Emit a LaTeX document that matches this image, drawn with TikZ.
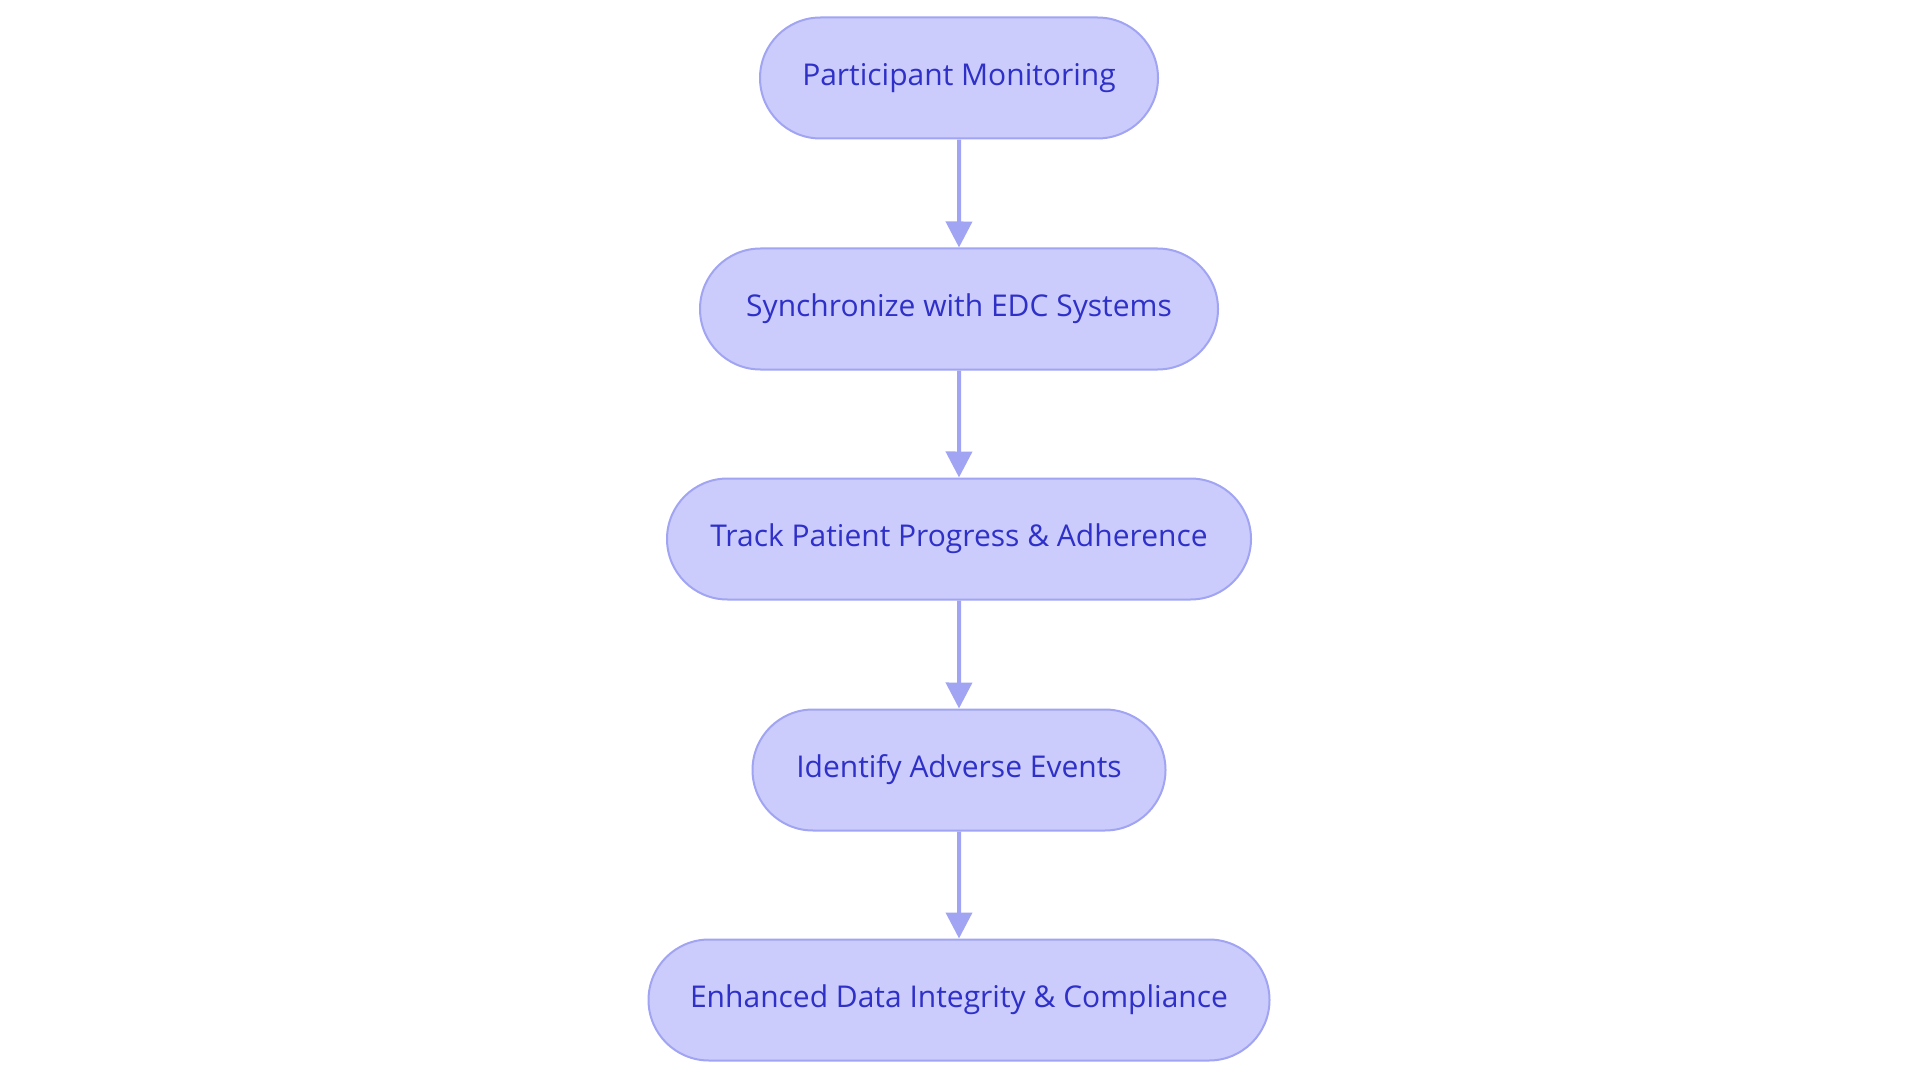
\documentclass[tikz,border=0pt]{standalone}
\usepackage{fontspec}
\setmainfont{Open Sans}
\usetikzlibrary{shapes.misc, arrows.meta}

\definecolor{boxfill}{HTML}{CBCCFC}
\definecolor{boxline}{HTML}{A0A4F2}
\definecolor{boxtext}{HTML}{2E30C8}

\tikzset{
    stepnode/.style={rounded rectangle, draw=boxline, fill=boxfill, line width=2pt,
        text=boxtext, minimum height=121pt, inner xsep=0pt},
    flow/.style={-{Triangle[length=26pt, width=26pt]}, draw=boxline, line width=4pt}
}

\begin{document}
\begin{tikzpicture}[x=1pt, y=-1pt, font=\fontsize{30}{36}\selectfont]
    \useasboundingbox (0,0) rectangle (1920,1083);

    \node[stepnode, minimum width=398pt] at (959, 78) (pm) {Participant Monitoring};
    \node[stepnode, minimum width=518pt] at (959, 309) (sync) {Synchronize with EDC Systems};
    \node[stepnode, minimum width=584pt] at (959, 539) (track) {Track Patient Progress \& Adherence};
    \node[stepnode, minimum width=413pt] at (959, 770) (ae) {Identify Adverse Events};
    \node[stepnode, minimum width=621pt] at (959, 1000) (dic) {Enhanced Data Integrity \& Compliance};

    \draw[flow] (pm) -- (sync);
    \draw[flow] (sync) -- (track);
    \draw[flow] (track) -- (ae);
    \draw[flow] (ae) -- (dic);
\end{tikzpicture}
\end{document}
